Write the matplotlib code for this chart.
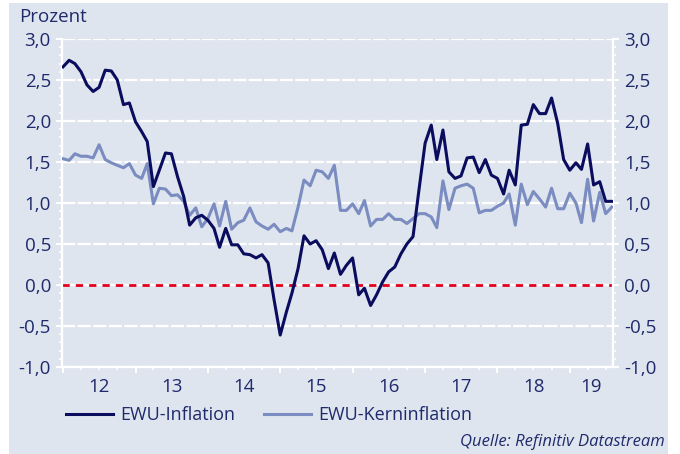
import numpy as np
import pandas as pd
import matplotlib
matplotlib.use("Agg")
import matplotlib.pyplot as plt
import matplotlib.dates as mdates
from matplotlib.patches import Rectangle
from matplotlib.ticker import MultipleLocator, FixedLocator

plt.rcParams['font.family'] = ['Open Sans', 'DejaVu Sans']

# monthly values, Jan 2012 - Aug 2019
infl = [2.66, 2.74, 2.70, 2.60, 2.44, 2.36, 2.41, 2.62, 2.61, 2.50, 2.20, 2.22,
        1.99, 1.87, 1.75, 1.20, 1.40, 1.61, 1.60, 1.32, 1.08, 0.73, 0.82, 0.85,
        0.79, 0.69, 0.46, 0.69, 0.49, 0.49, 0.38, 0.37, 0.33, 0.37, 0.27, -0.18,
        -0.61, -0.33, -0.10, 0.20, 0.60, 0.50, 0.54, 0.43, 0.20, 0.39, 0.13, 0.24,
        0.33, -0.12, -0.04, -0.25, -0.12, 0.04, 0.16, 0.22, 0.38, 0.50, 0.59, 1.16,
        1.73, 1.95, 1.53, 1.89, 1.38, 1.30, 1.33, 1.55, 1.56, 1.37, 1.53, 1.34,
        1.30, 1.11, 1.40, 1.22, 1.95, 1.96, 2.20, 2.09, 2.09, 2.28, 1.97, 1.53,
        1.40, 1.49, 1.41, 1.72, 1.22, 1.26, 1.02, 1.02]
core = [1.54, 1.52, 1.60, 1.57, 1.57, 1.55, 1.71, 1.53, 1.49, 1.46, 1.43, 1.48,
        1.34, 1.30, 1.48, 0.99, 1.18, 1.17, 1.09, 1.10, 1.02, 0.85, 0.94, 0.71,
        0.81, 0.99, 0.72, 1.02, 0.68, 0.76, 0.79, 0.94, 0.77, 0.72, 0.68, 0.74,
        0.65, 0.69, 0.66, 0.95, 1.28, 1.21, 1.40, 1.38, 1.30, 1.46, 0.91, 0.91,
        0.99, 0.87, 1.03, 0.72, 0.80, 0.80, 0.87, 0.80, 0.80, 0.75, 0.81, 0.87,
        0.87, 0.83, 0.70, 1.27, 0.92, 1.18, 1.21, 1.23, 1.18, 0.88, 0.91, 0.91,
        0.96, 1.00, 1.11, 0.73, 1.23, 0.98, 1.14, 1.05, 0.95, 1.18, 0.93, 0.93,
        1.12, 1.00, 0.76, 1.29, 0.78, 1.13, 0.87, 0.95]
years = ["12", "13", "14", "15", "16", "17", "18", "19"]
yticks = [-1.0, -0.5, 0.0, 0.5, 1.0, 1.5, 2.0, 2.5, 3.0]

dates = pd.date_range("2012-01-01", periods=len(infl), freq="MS")

bg = "#dfe5ef"
txt = "#1f2a6b"
dark = "#0a0c5e"
light = "#7a8cc0"

fig = plt.figure(figsize=(6.8, 4.54), dpi=100, facecolor="white")
fig.patches.append(Rectangle((9/680, 0), 659/680, 1 - 3/454, transform=fig.transFigure,
                             facecolor=bg, edgecolor="none", zorder=-10))
ax = fig.add_axes([62/680, 1 - 367/454, 551/680, 328/454])
ax.set_facecolor(bg)

x0 = pd.Timestamp("2011-12-27")
x1 = pd.Timestamp("2019-08-07")
ax.set_xlim(x0, x1)
ax.set_ylim(-1, 3)

for v in yticks:
    if v != 0:
        ax.axhline(v, color="white", lw=1.6, ls=(0, (6, 1)), zorder=1)
ax.axhline(0, color="white", lw=1.6, zorder=1)
ax.axhline(0, color="#e3001b", lw=2.0, dashes=(2.6, 2.2), zorder=2)

ax.plot(dates, core, color=light, lw=2.2, label="EWU-Kerninflation", zorder=3)
ax.plot(dates, infl, color=dark, lw=2.2, label="EWU-Inflation", zorder=4)

for s in ["left", "right", "bottom"]:
    ax.spines[s].set_color("white")
    ax.spines[s].set_linewidth(1.6)
ax.spines["top"].set_visible(False)

ax.yaxis.set_major_locator(FixedLocator(yticks))
ax.yaxis.set_minor_locator(MultipleLocator(0.1))
ax.set_yticklabels([f"{v:.1f}".replace(".", ",") for v in yticks])
ax.tick_params(axis="y", which="both", direction="out", colors="white",
               labelcolor=txt, left=True, right=True, labelleft=True, labelright=True,
               labelsize=13.5, pad=4)
ax.tick_params(axis="y", which="major", length=4, width=1.4)
ax.tick_params(axis="y", which="minor", length=2.5, width=1.2)

ax.xaxis.set_major_locator(mdates.YearLocator())
ax.xaxis.set_minor_locator(mdates.MonthLocator(bymonth=[1, 4, 7, 10]))
ax.xaxis.set_major_formatter(plt.NullFormatter())
ax.tick_params(axis="x", which="major", direction="out", colors="white", length=4.5, width=1.4)
ax.tick_params(axis="x", which="minor", direction="out", colors="white", length=2.5, width=1.2)

for i, lab in enumerate(years):
    a = max(pd.Timestamp(f"20{lab}-01-01"), x0)
    b = min(pd.Timestamp(f"20{int(lab)+1}-01-01"), x1)
    mid = a + (b - a) / 2
    ax.annotate(lab, xy=(mid, 0), xycoords=("data", "axes fraction"),
                xytext=(0, -8), textcoords="offset points", ha="center", va="top",
                fontsize=13.5, color=txt)

h, l = ax.get_legend_handles_labels()
fig.legend(h[::-1], l[::-1], loc="center left", bbox_to_anchor=(50/680, 1 - 415/454),
           ncol=2, frameon=False, fontsize=13, handlelength=2.6, handletextpad=0.4,
           columnspacing=1.6, labelcolor=txt)

fig.text(19/680, 1 - 17/454, "Prozent", fontsize=13.5, color=txt, va="center", ha="left")
fig.text(665/680, 1 - 442/454, "Quelle: Refinitiv Datastream", fontsize=12,
         style="italic", color=txt, va="center", ha="right")

fig.savefig("out.png", dpi=100, facecolor="white")
